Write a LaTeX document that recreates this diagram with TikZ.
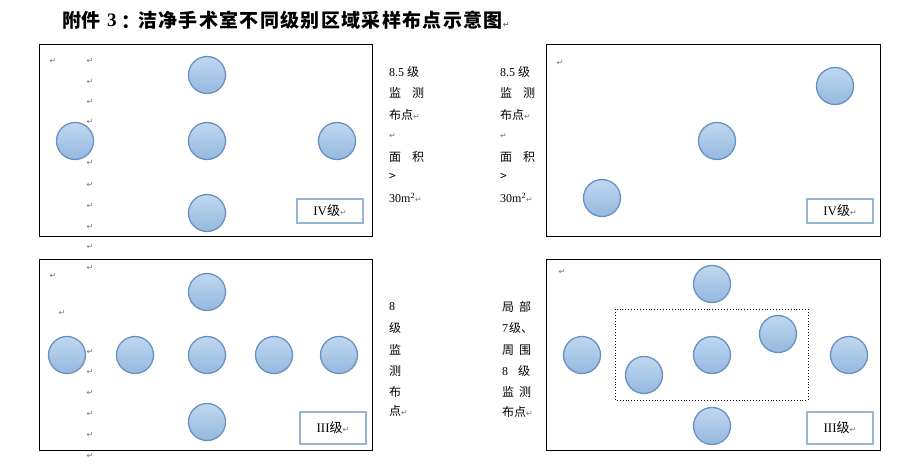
\documentclass[tikz,border=0pt]{standalone}
\usepackage{fontspec}
\setmainfont{Liberation Serif}
\newfontfamily\cjk{Noto Sans CJK SC}
\newfontfamily\cjkt{Noto Sans CJK SC}[LetterSpace=7]
\newfontfamily\symf{DejaVu Sans}
\definecolor{pmgrey}{RGB}{120,120,120}
\definecolor{ctop}{RGB}{192,216,241}
\definecolor{cbot}{RGB}{148,184,222}
\definecolor{cline}{RGB}{105,145,192}
\definecolor{lblue}{RGB}{150,180,214}
\newcommand{\parmk}{{\symf\color{pmgrey}\fontsize{8}{8}\selectfont ↵}}
\begin{document}
\begin{tikzpicture}[x=1pt,y=-1pt,
  dot/.style={circle,minimum size=37pt,inner sep=0pt,draw=cline,line width=1.3pt,top color=ctop,bottom color=cbot},
  roomframe/.style={draw=black,line width=1pt},
  lbl/.style={draw=lblue,line width=1.5pt,fill=white,minimum width=66pt,inner sep=0pt,font=\fontsize{13}{13}\selectfont},
  side/.style={anchor=west,inner sep=0pt,font=\fontsize{12}{12}\selectfont},
  ttl/.style={anchor=west,inner sep=0pt,font=\fontsize{19}{19}\selectfont\bfseries},
  pmk/.style={inner sep=0pt}]
\useasboundingbox (0,0) rectangle (917,470);
% title
\node[ttl] (t1) at (62,20) {\cjk 附件};
\node[ttl] (t2) at (107,20) {3};
\node[ttl] (t3) at (121,22) {\cjk ：};
\node[ttl] (t4) at (138,20) {{\cjkt 洁净手术室不同级别区域采样布点示意图}\parmk};
% frames
\draw[roomframe] (39,45) rectangle (372,236);
\draw[roomframe] (546,45) rectangle (880,236);
\draw[roomframe] (39,259) rectangle (372,450);
\draw[roomframe] (546,259) rectangle (880,450);
\draw[dotted,line width=0.9pt] (615,309) rectangle (808,400);
% circles top-left
\node[dot] (a1) at (207,75) {};
\node[dot] (a2) at (75,141) {};
\node[dot] (a3) at (207,141) {};
\node[dot] (a4) at (337,141) {};
\node[dot] (a5) at (207,213) {};
% circles top-right
\node[dot] (b1) at (835,86) {};
\node[dot] (b2) at (717,141) {};
\node[dot] (b3) at (602,198) {};
% circles bottom-left
\node[dot] (c1) at (207,292) {};
\node[dot] (c2) at (67,355) {};
\node[dot] (c3) at (135,355) {};
\node[dot] (c4) at (207,355) {};
\node[dot] (c5) at (274,355) {};
\node[dot] (c6) at (339,355) {};
\node[dot] (c7) at (207,422) {};
% circles bottom-right
\node[dot] (d1) at (712,284) {};
\node[dot] (d2) at (582,355) {};
\node[dot] (d3) at (712,355) {};
\node[dot] (d4) at (778,334) {};
\node[dot] (d5) at (644,375) {};
\node[dot] (d6) at (849,355) {};
\node[dot] (d7) at (712,426) {};
% label boxes
\node[lbl,minimum height=24pt] (l1) at (330,211) {IV{\cjk 级}\parmk};
\node[lbl,minimum height=24pt] (l2) at (840,211) {IV{\cjk 级}\parmk};
\node[lbl,minimum height=32pt] (l3) at (333,428) {III{\cjk 级}\parmk};
\node[lbl,minimum height=32pt] (l4) at (840,428) {III{\cjk 级}\parmk};
% side texts top
\foreach \sx/\nm in {389/s, 500/t}{
  \node[side] (\nm1) at (\sx,72) {8.5\hspace{3pt}{\cjk 级}};
  \node[side] (\nm2) at (\sx,93) {{\cjk 监}\hspace{11pt}{\cjk 测}};
  \node[side] (\nm3) at (\sx,115) {{\cjk 布点}\parmk};
  \node[side] (\nm4) at (\sx,136) {\parmk};
  \node[side] (\nm5) at (\sx,157) {{\cjk 面}\hspace{11pt}{\cjk 积}};
  \node[side] (\nm6) at (\sx,177) {{\cjk >}};
  \node[side] (\nm7) at (\sx,198) {30m\textsuperscript{2}\parmk};
}
% side text bottom-left
\node[side] (u1) at (389,307) {8};
\node[side] (u2) at (389,328) {\cjk 级};
\node[side] (u3) at (389,350) {\cjk 监};
\node[side] (u4) at (389,371) {\cjk 测};
\node[side] (u5) at (389,392) {\cjk 布};
\node[side] (u6) at (389,411) {{\cjk 点}\parmk};
% side text bottom-right
\node[side] (v1) at (502,307) {{\cjk 局}\hspace{5pt}{\cjk 部}};
\node[side] (v2) at (502,328) {7\hspace{1pt}{\cjk 级、}};
\node[side] (v3) at (502,350) {{\cjk 周}\hspace{5pt}{\cjk 围}};
\node[side] (v4) at (502,371) {8\hspace{10pt}{\cjk 级}};
\node[side] (v5) at (502,392) {{\cjk 监}\hspace{5pt}{\cjk 测}};
\node[side] (v6) at (502,412) {{\cjk 布点}\parmk};
% paragraph marks
\foreach \px/\py [count=\i] in {53/61,90/61,90/82,90/102,90/122,90/163,90/185,90/206,90/227,90/247,90/268,53/276,62/313,90/352,90/372,90/393,90/414,90/435,90/456,560/63,562/272}{
  \node[pmk] (p\i) at (\px,\py) {\parmk};
}
\end{tikzpicture}
\end{document}
